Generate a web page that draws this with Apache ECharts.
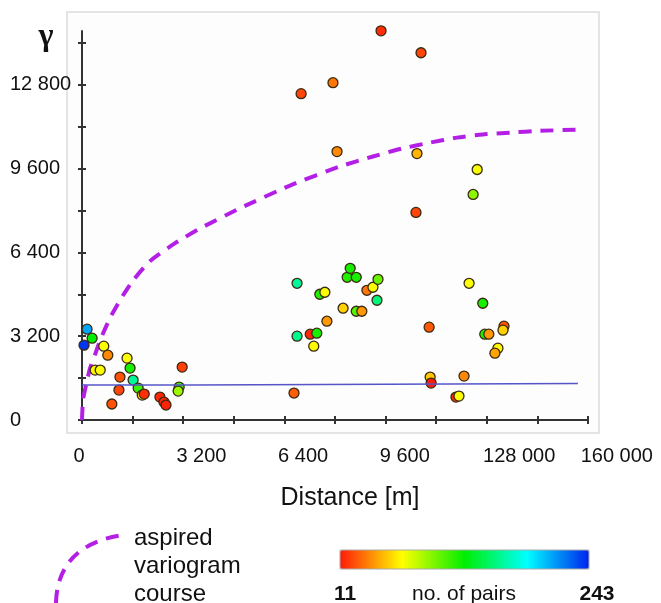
<!DOCTYPE html>
<html><head><meta charset="utf-8">
<script src="https://cdn.jsdelivr.net/npm/echarts@6/dist/echarts.min.js"></script>
<style>html,body{margin:0;padding:0;background:#fff}#c{width:661px;height:603px}</style>
</head><body><div id="c"></div>
<script>
// ---- data (x in axis tick units, y = semivariance γ) ----
const distX = [0.10,0.20,0.04,0.43,0.51,0.26,0.36,0.89,0.95,0.75,1.01,1.11,0.73,1.19,1.23,0.59,1.54,1.62,1.66,1.98,1.92,1.90,
  4.19,4.25,4.25,4.51,4.64,4.58,4.70,4.80,4.84,5.16,5.24,5.30,5.42,5.42,5.53,5.63,5.75,5.85,5.83,
  5.91,6.70,4.96,4.33,5.04,6.62,7.81,7.73,6.60,7.65,7.92,6.86,7.96,8.04,8.34,8.32,8.22,8.16,6.88,6.90,7.55,7.39,7.45];
const gammaY = [3467,3124,2857,2819,2476,1905,1905,2362,1981,1638,1524,1219,1143,952,990,610,876,686,571,2019,1257,1105,
  1029,5219,3200,3276,3314,2819,4800,4876,3771,4267,5448,5790,5448,4152,4152,4952,5067,5371,4571,
  14857,14019,12876,12457,10248,10171,9562,8610,7924,5219,4457,3543,3276,3276,3581,3429,2743,2552,1638,1410,1676,876,914];
const nPairs = [208,127,238,69,39,67,70,70,122,25,162,115,22,62,16,25,14,14,13,20,115,92,
  28,162,160,14,122,68,120,70,43,57,120,122,122,108,43,34,70,104,155,
  16,22,34,22,39,50,71,95,22,70,122,27,120,43,25,57,68,46,55,11,39,14,70];

const varioX = [0,0.02,0.08,0.16,0.26,0.36,0.55,0.75,1.01,1.34,1.84,2.33,3.12,4.11,5.10,5.75,6.32,6.88,7.41,7.92,8.46,9.05,9.78];
const varioY = [0,760,1330,1980,2510,3050,3880,4570,5330,6060,6750,7310,8080,8950,9680,10060,10360,10590,10780,10900,10970,11040,11080];

const sillX = [0,2.2,2.2,9.8];
const sillY = [1340,1340,1395,1395];

const xTickLabels = ['0','3 200','6 400','9 600','128 000','160 000'];
const xTickLabelPos = [-0.06,2.36,4.37,6.38,8.64,10.57];
const yTickVals = [0,1600,3200,4800,6400,8000,9600,11200,12800,14400];
const yLabelVals = [0,3200,6400,9600,12800];
const pairRange = [11,243];
const pairColors = ['#ff1a0a','#ffff00','#00ee00','#00ffff','#0022ee'];

// ---- chart ----
const FONT = '"Liberation Sans", Arial, sans-serif';
const chart = echarts.init(document.getElementById('c'));
const points = distX.map((x,i)=>[x,gammaY[i],nPairs[i]]);
const vario = varioX.map((x,i)=>[x,varioY[i]]);
const sill = sillX.map((x,i)=>[x,sillY[i]]);
const axisCol = '#333';
const fmtThousands = v => String(v).replace(/\B(?=(\d{3})+(?!\d))/g,' ');

chart.setOption({
  animation:false,
  backgroundColor:'#fff',
  grid:[
    {left:82, top:31, width:506, height:389},
    {left:71.88, top:31, width:566.72, height:389}
  ],
  xAxis:[
    {gridIndex:0, type:'value', position:'bottom', min:0, max:10, interval:1,
     axisLine:{show:true, onZero:false, lineStyle:{color:axisCol, width:2}},
     axisTick:{show:true, length:4, lineStyle:{color:axisCol, width:2}},
     axisLabel:{show:false}, splitLine:{show:false}},
    {gridIndex:0, type:'value', position:'bottom', min:0, max:10, interval:1,
     axisLine:{show:false},
     axisTick:{show:true, inside:true, length:4, lineStyle:{color:axisCol, width:2}},
     axisLabel:{show:false}, splitLine:{show:false}},
    {gridIndex:1, type:'value', position:'bottom', min:-0.2, max:11,
     axisLine:{show:false}, axisTick:{show:false}, splitLine:{show:false},
     axisLabel:{show:true, customValues:xTickLabelPos, margin:26, fontSize:20, color:'#111', fontFamily:FONT,
       formatter:v=>{const i=xTickLabelPos.findIndex(p=>Math.abs(p-v)<1e-6);return i>=0?xTickLabels[i]:'';}}}
  ],
  yAxis:[
    {gridIndex:0, type:'value', position:'left', min:0, max:14850,
     axisLine:{show:true, onZero:false, lineStyle:{color:axisCol, width:2}},
     axisTick:{show:true, customValues:yTickVals, length:4, lineStyle:{color:axisCol, width:2}},
     axisLabel:{show:true, customValues:yLabelVals, align:'left', margin:72, fontSize:20, color:'#111', fontFamily:FONT, formatter:fmtThousands},
     splitLine:{show:false}},
    {gridIndex:0, type:'value', position:'left', min:0, max:14850,
     axisLine:{show:false},
     axisTick:{show:true, inside:true, customValues:yTickVals, length:4, lineStyle:{color:axisCol, width:2}},
     axisLabel:{show:false}, splitLine:{show:false}},
    {gridIndex:1, type:'value', show:false, min:0, max:1}
  ],
  visualMap:{
    type:'continuous', seriesIndex:0, dimension:2, min:pairRange[0], max:pairRange[1],
    orient:'horizontal', left:340, top:550, itemWidth:19, itemHeight:249, padding:0,
    calculable:false, hoverLink:false, inRange:{color:pairColors}
  },
  series:[
    {type:'scatter', xAxisIndex:0, yAxisIndex:0, data:points, symbolSize:10, clip:false, z:3,
     itemStyle:{borderColor:'#3a2a12', borderWidth:1.3, opacity:1}},
    {type:'line', xAxisIndex:0, yAxisIndex:0, data:vario, smooth:0.2, symbol:'none', z:2,
     lineStyle:{color:'#b41fe6', width:4, type:[13,9]}},
    {type:'line', xAxisIndex:0, yAxisIndex:0, data:sill, symbol:'none', z:4,
     lineStyle:{color:'#5555c8', width:1.5}}
  ],
  graphic:[
    {type:'rect', z:-10, silent:true, shape:{x:67,y:12,width:532,height:421}, style:{fill:'#fdfdfd', stroke:'#dcdcdc', lineWidth:1.5}},
    {type:'text', x:46, y:37, style:{text:'γ', font:'bold 32px "Liberation Serif", "DejaVu Serif", serif', fill:'#111', align:'center', verticalAlign:'middle'}},
    {type:'text', x:350, y:498, style:{text:'Distance [m]', font:'25px '+FONT, fill:'#111', align:'center', verticalAlign:'middle'}},
    {type:'bezierCurve', shape:{x1:56,y1:603,cpx1:57,cpy1:558,cpx2:88,cpy2:540,x2:123,y2:535}, style:{stroke:'#b41fe6', lineWidth:4, lineDash:[13,9], fill:null}},
    {type:'text', x:134, y:538, style:{text:'aspired', font:'24px '+FONT, fill:'#111', align:'left', verticalAlign:'middle'}},
    {type:'text', x:134, y:566, style:{text:'variogram', font:'24px '+FONT, fill:'#111', align:'left', verticalAlign:'middle'}},
    {type:'text', x:134, y:594, style:{text:'course', font:'24px '+FONT, fill:'#111', align:'left', verticalAlign:'middle'}},
    {type:'rect', z:100, silent:true, shape:{x:340,y:550,width:249,height:19}, style:{fill:null, stroke:'#aaa', lineWidth:1}},
    {type:'text', x:345, y:594, style:{text:String(pairRange[0]), font:'bold 21px '+FONT, fill:'#111', align:'center', verticalAlign:'middle'}},
    {type:'text', x:464, y:594, style:{text:'no. of pairs', font:'21px '+FONT, fill:'#111', align:'center', verticalAlign:'middle'}},
    {type:'text', x:597, y:594, style:{text:String(pairRange[1]), font:'bold 21px '+FONT, fill:'#111', align:'center', verticalAlign:'middle'}}
  ]
});
</script></body></html>
